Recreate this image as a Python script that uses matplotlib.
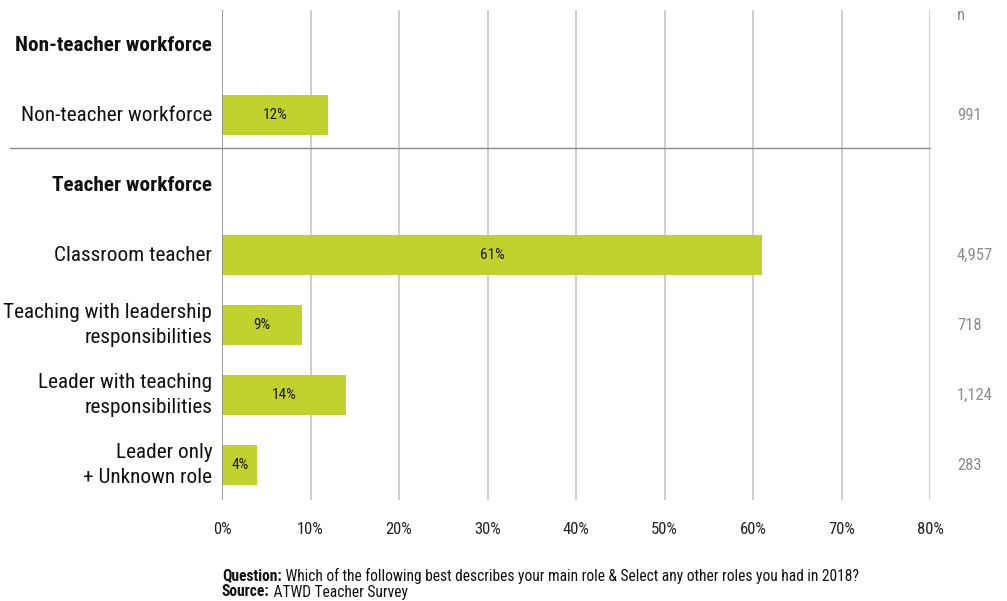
import matplotlib.pyplot as plt
from matplotlib import font_manager

# Pick a condensed sans, falling back to Roboto
names = {f.name for f in font_manager.fontManager.ttflist}
CANDIDATES = ["Roboto Condensed", "Archivo Narrow", "Liberation Sans Narrow", "Roboto"]
FONT = next(c for c in CANDIDATES + ["DejaVu Sans"] if c in names or c == "DejaVu Sans")
plt.rcParams['font.family'] = [FONT, "DejaVu Sans"]

# Data
ROW_LABELS = ["Non-teacher workforce", "Non-teacher workforce", "Teacher workforce",
              "Classroom teacher", "Teaching with leadership\nresponsibilities",
              "Leader with teaching\nresponsibilities", "Leader only\n+ Unknown role"]
IS_HEADER = [True, False, True, False, False, False, False]
SHARES = [None, 12, None, 61, 9, 14, 4]
COUNTS = [None, "991", None, "4,957", "718", "1,124", "283"]
X_TICKS = [0, 10, 20, 30, 40, 50, 60, 70, 80]

BAR_COLOR = "#c0d22d"
GRID_COLOR = "#c4c6c9"
AXIS_COLOR = "#8a8c8f"
N_COLOR = "#8c8c8c"

fig = plt.figure(figsize=(10.07, 6.01), dpi=100)
ax = fig.add_axes([222 / 1007, 1 - 500 / 601, 708 / 1007, 490 / 601])

ys = list(range(len(ROW_LABELS)))
for y, share in zip(ys, SHARES):
    if share is None:
        continue
    ax.barh(y, share, height=0.56, color=BAR_COLOR, zorder=3)
    ax.text(share / 2, y, f"{share}%", ha="center", va="center", fontsize=11,
            color="#1a1a1a", zorder=4)

ax.set_xlim(0, 80)
ax.set_ylim(len(ROW_LABELS) - 0.5, -0.5)

# vertical gridlines
for x in X_TICKS[1:]:
    ax.axvline(x, color=GRID_COLOR, lw=1.2, zorder=1)
ax.axvline(0, color=AXIS_COLOR, lw=1.2, zorder=5)

# separator between the two groups
ax.axhline(1.47, xmin=(10 - 222) / 708, xmax=1.0, color=AXIS_COLOR, lw=1.0,
           clip_on=False, zorder=2)

for s in ax.spines.values():
    s.set_visible(False)

ax.set_yticks(ys)
ax.set_yticklabels([])
for y, label, header in zip(ys, ROW_LABELS, IS_HEADER):
    ax.text(-1.1, y, label, ha="right", va="center", fontsize=15.3,
            fontweight="bold" if header else "normal", color="#111111",
            linespacing=1.4)

ax.set_xticks(X_TICKS)
ax.set_xticklabels([f"{x}%" for x in X_TICKS], fontsize=12, color="#222222")
ax.tick_params(axis="both", length=0, pad=16)

# sample sizes on the right
fig.text(957 / 1007, 1 - 16 / 601, "n", ha="left", va="center", fontsize=12,
         color=N_COLOR)
for y, n in zip(ys, COUNTS):
    if n is None:
        continue
    ax.text(1 + 27 / 708, y, n, transform=ax.get_yaxis_transform(), ha="left",
            va="center", fontsize=12, color=N_COLOR)

# notes below the axis: bold lead-in followed by regular text
renderer = fig.canvas.get_renderer()
notes = [("Question:", " Which of the following best describes your main role & Select any other roles you had in 2018?", 576),
         ("Source:", " ATWD Teacher Survey", 592)]
for lead, rest, ypx in notes:
    t = fig.text(222 / 1007, 1 - ypx / 601, lead, fontsize=11.2, fontweight="bold",
                 va="center", color="#111111")
    w = t.get_window_extent(renderer).width
    fig.text((222 + w) / 1007, 1 - ypx / 601, rest, fontsize=11.2, va="center",
             color="#111111")

fig.savefig("out.png", dpi=100)
